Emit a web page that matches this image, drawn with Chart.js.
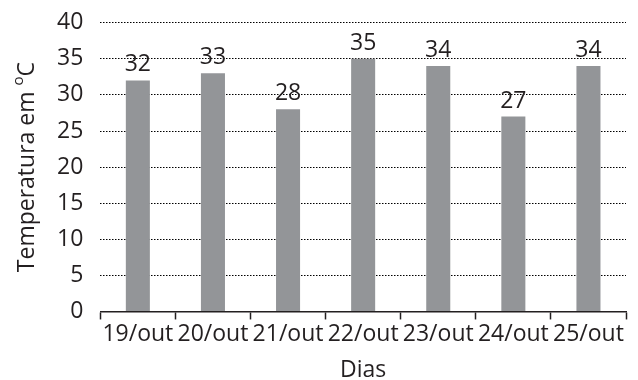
<!DOCTYPE html>
<html>
<head>
<meta charset="utf-8">
<script src="https://cdn.jsdelivr.net/npm/chart.js@4.4.0/dist/chart.umd.min.js"></script>
<style>
  html, body { margin: 0; padding: 0; background: #fff; }
  #wrap { width: 638px; height: 380px; }
</style>
</head>
<body>
<div id="wrap"><canvas id="tempChart"></canvas></div>
<script>
const dias = ['19/out', '20/out', '21/out', '22/out', '23/out', '24/out', '25/out'];
const temperaturas = [32, 33, 28, 35, 34, 27, 34];
const yMin = 0, yMax = 40, yStep = 5;

const textColor = '#231f20';
const fontFamily = '"Open Sans", sans-serif';
const fontSize = 23;

// value above each bar
const valueLabels = {
    id: 'valueLabels',
    afterDatasetsDraw(chart) {
        const ctx = chart.ctx;
        const meta = chart.getDatasetMeta(0);
        ctx.save();
        ctx.font = fontSize + 'px ' + fontFamily;
        ctx.fillStyle = textColor;
        ctx.textAlign = 'center';
        ctx.textBaseline = 'alphabetic';
        meta.data.forEach((bar, i) => {
            ctx.fillText(String(temperaturas[i]), bar.x, bar.y - 9);
        });
        ctx.restore();
    }
};

// rotated y title with a raised "o" before the C
const yTitle = {
    id: 'yTitle',
    afterDraw(chart) {
        const { ctx, chartArea } = chart;
        const main = 'Temperatura em ';
        const sup = 'o';
        const unit = 'C';
        const supSize = 15;
        ctx.save();
        ctx.translate(27, (chartArea.top + chartArea.bottom) / 2);
        ctx.rotate(-Math.PI / 2);
        ctx.fillStyle = textColor;
        ctx.textBaseline = 'middle';
        ctx.textAlign = 'left';
        ctx.font = fontSize + 'px ' + fontFamily;
        const wMain = ctx.measureText(main).width;
        const wUnit = ctx.measureText(unit).width;
        ctx.font = supSize + 'px ' + fontFamily;
        const wSup = ctx.measureText(sup).width;
        let x = -(wMain + wSup + wUnit) / 2;
        ctx.font = fontSize + 'px ' + fontFamily;
        ctx.fillText(main, x, 0);
        x += wMain;
        ctx.font = supSize + 'px ' + fontFamily;
        ctx.fillText(sup, x, -8);
        x += wSup;
        ctx.font = fontSize + 'px ' + fontFamily;
        ctx.fillText(unit, x, 0);
        ctx.restore();
    }
};

const ctx = document.getElementById('tempChart').getContext('2d');
new Chart(ctx, {
    type: 'bar',
    data: {
        labels: dias,
        datasets: [{
            data: temperaturas,
            backgroundColor: '#939598',
            borderWidth: 0,
            categoryPercentage: 1,
            barPercentage: 0.32
        }]
    },
    options: {
        responsive: true,
        maintainAspectRatio: false,
        animation: false,
        layout: {
            padding: { left: 40, right: 12, top: 14, bottom: 0 }
        },
        plugins: {
            legend: { display: false },
            tooltip: { enabled: false }
        },
        scales: {
            x: {
                offset: true,
                grid: {
                    display: true,
                    offset: true,
                    drawOnChartArea: false,
                    drawTicks: true,
                    tickLength: 8,
                    tickColor: textColor,
                    tickWidth: 1.5
                },
                border: { display: true, color: textColor, width: 1.5 },
                ticks: {
                    color: textColor,
                    font: { family: fontFamily, size: fontSize, lineHeight: 1 },
                    autoSkip: false,
                    maxRotation: 0,
                    padding: 4
                },
                title: {
                    display: true,
                    text: 'Dias',
                    color: textColor,
                    font: { family: fontFamily, size: fontSize, lineHeight: 0.85 },
                    padding: { top: 10, bottom: 0 }
                }
            },
            y: {
                min: yMin,
                max: yMax,
                grid: {
                    color: '#000',
                    lineWidth: 1,
                    drawTicks: false
                },
                border: { display: false, dash: [1.5, 1.5] },
                ticks: {
                    stepSize: yStep,
                    color: textColor,
                    font: { family: fontFamily, size: fontSize, lineHeight: 0.5 },
                    padding: 17
                }
            }
        }
    },
    plugins: [valueLabels, yTitle]
});
</script>
</body>
</html>
